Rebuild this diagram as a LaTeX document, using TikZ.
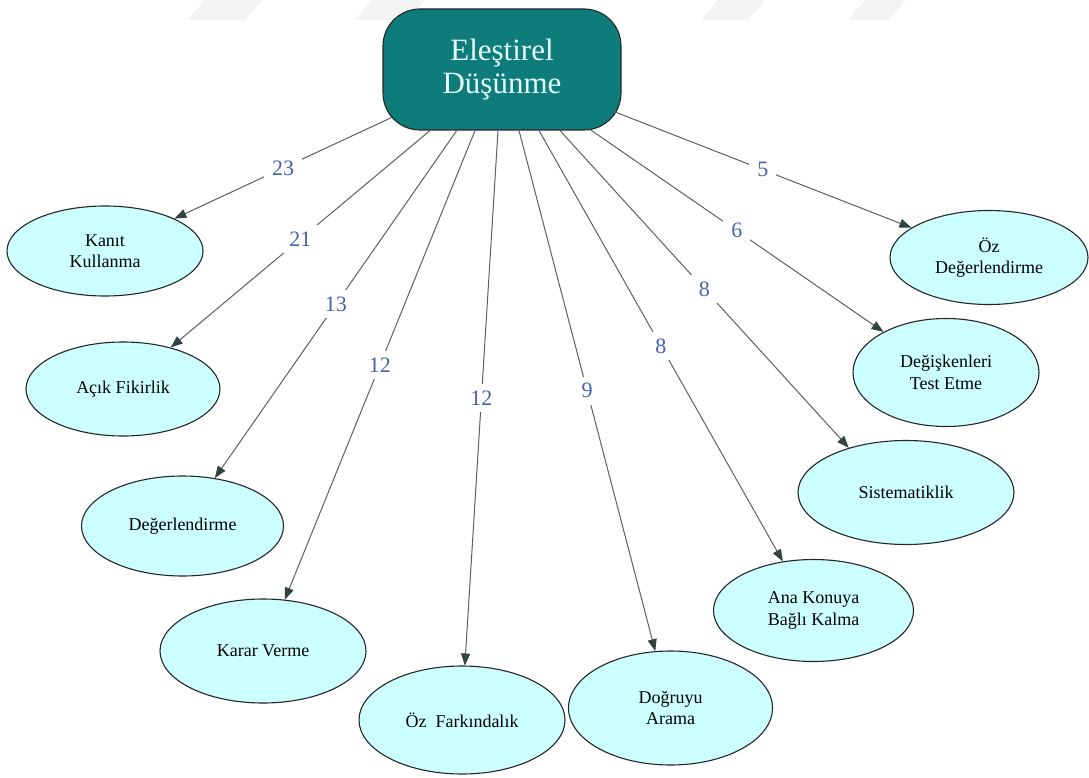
\documentclass[tikz,border=0pt]{standalone}
\usepackage{fontspec}
\setmainfont{Liberation Serif}
\usetikzlibrary{shapes.geometric,arrows.meta}

\definecolor{boxteal}{RGB}{14,124,123}
\definecolor{boxtext}{RGB}{228,252,250}
\definecolor{bubble}{RGB}{204,255,255}
\definecolor{edgegray}{RGB}{95,95,95}
\definecolor{tipgray}{RGB}{50,68,66}
\definecolor{countblue}{RGB}{72,98,178}
\definecolor{wmgray}{RGB}{243,243,243}

\begin{document}
\begin{tikzpicture}[x=1pt,y=-1pt,
  topic/.style={draw=black!85, line width=1.1pt, fill=boxteal, rounded corners=37pt,
    minimum width=238pt, minimum height=121pt, align=center, text=boxtext,
    font=\fontsize{31}{33}\selectfont},
  skill/.style={ellipse, draw=black!85, line width=1.1pt, fill=bubble, inner sep=0pt,
    align=center, font=\fontsize{18}{21.5}\selectfont},
  link/.style={draw=edgegray, line width=1pt,
    -{Triangle[length=12pt,width=9pt,color=tipgray]}},
  count/.style={fill=white, text=countblue, font=\fontsize{22}{22}\selectfont,
    inner xsep=8pt, inner ysep=0pt, minimum height=28pt}
]
\useasboundingbox (0,0) rectangle (1089,778);
\fill[white] (0,0) rectangle (1089,778);

% faint slanted bands along the top edge
\fill[wmgray] (205,0) -- (262,0) -- (245,20) -- (188,20) -- cycle;
\fill[wmgray] (372,0) -- (425,0) -- (408,20) -- (355,20) -- cycle;
\fill[wmgray] (718,0) -- (765,0) -- (748,20) -- (701,20) -- cycle;
\fill[wmgray] (865,0) -- (906,0) -- (889,20) -- (848,20) -- cycle;

% central concept
\node[topic] (dt) at (502,69.5) {Eleştirel\\Düşünme};

% skills
\node[skill, minimum width=196pt, minimum height=90pt]  (kanit)  at (105,251)   {Kanıt\\Kullanma};
\node[skill, minimum width=194pt, minimum height=94pt]  (acik)   at (123,389)   {Açık Fikirlik};
\node[skill, minimum width=202pt, minimum height=100pt] (deger)  at (182.5,526) {Değerlendirme};
\node[skill, minimum width=206pt, minimum height=104pt] (karar)  at (263,651)   {Karar Verme};
\node[skill, minimum width=206pt, minimum height=108pt] (ozfark) at (462,720)   {Öz~~Farkındalık};
\node[skill, minimum width=204pt, minimum height=114pt] (dogru)  at (670.5,708) {Doğruyu\\Arama};
\node[skill, minimum width=200pt, minimum height=102pt] (ana)    at (813.5,610.5) {Ana Konuya\\Bağlı Kalma};
\node[skill, minimum width=216pt, minimum height=104pt] (sist)   at (906,492.5) {Sistematiklik};
\node[skill, minimum width=186pt, minimum height=108pt] (degis)  at (946,372.5) {Değişkenleri\\Test Etme};
\node[skill, minimum width=198pt, minimum height=94pt]  (ozdeg)  at (989,257.5) {Öz\\Değerlendirme};

% weighted links
\draw[link] ([shift={(-110,47.8)}]dt.center) -- node[count]{23} (kanit.25);
\draw[link] ([xshift=-72pt]dt.south)   -- node[count]{21} (acik.41);
\draw[link] ([xshift=-45.3pt]dt.south) -- node[count]{13} (deger.56);
\draw[link] ([xshift=-27pt]dt.south)   -- node[count]{12} (karar.67);
\draw[link] ([xshift=-4pt]dt.south)    -- node[count]{12} (ozfark.87);
\draw[link] ([xshift=17pt]dt.south)    -- node[count]{9}  (dogru.105);
\draw[link] ([xshift=37pt]dt.south)    -- node[count]{8}  (ana.122);
\draw[link] ([xshift=58pt]dt.south)    -- node[count]{8}  (sist.142);
\draw[link] ([shift={(88,60)}]dt.center)     -- node[count]{6} (degis.147);
\draw[link] ([shift={(112.3,42.2)}]dt.center) -- node[count]{5} (ozdeg.159);
\end{tikzpicture}
\end{document}
